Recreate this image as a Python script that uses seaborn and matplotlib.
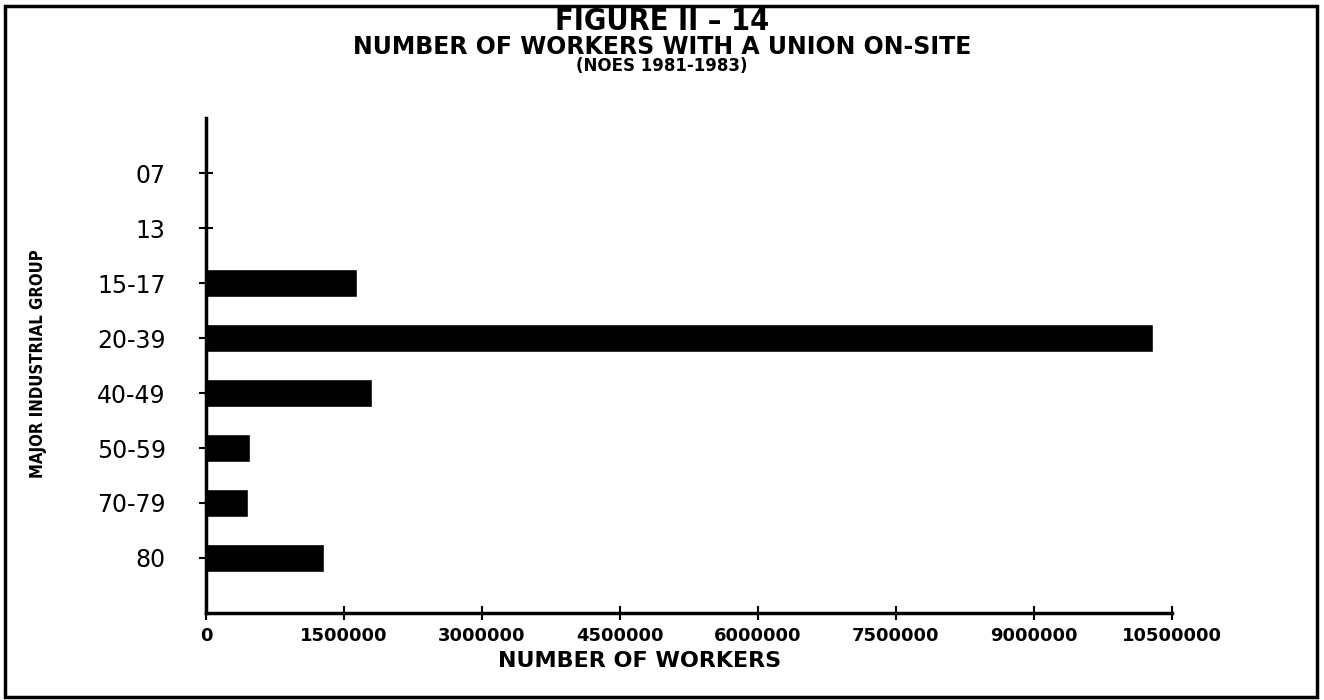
import matplotlib
matplotlib.use("Agg")
import matplotlib.pyplot as plt
import seaborn as sns
import pandas as pd
from matplotlib.patches import Rectangle

# datos
grupos = ["07", "13", "15-17", "20-39", "40-49", "50-59", "70-79", "80"]
trabajadores = [0, 0, 1640000, 10300000, 1810000, 480000, 460000, 1280000]
ticks_x = [0, 1500000, 3000000, 4500000, 6000000, 7500000, 9000000, 10500000]

df = pd.DataFrame({"Grupo": grupos, "Trabajadores": trabajadores})

sns.set_theme(style="white")
plt.rcParams["font.family"] = ["DejaVu Sans"]
plt.rcParams["text.color"] = "black"
plt.rcParams["xtick.color"] = "black"
plt.rcParams["ytick.color"] = "black"

fig = plt.figure(figsize=(13.24, 7), dpi=100)
ax = fig.add_axes([0.1556, 0.1243, 0.7294, 0.7071])

sns.barplot(data=df, x="Trabajadores", y="Grupo", orient="h",
            color="black", width=0.52, ax=ax, saturation=1)

ax.set_xlim(0, 10500000)
ax.set_ylim(8, -1)
ax.set_xticks(ticks_x)
ax.set_xticklabels([str(t) for t in ticks_x], fontsize=13, fontweight="bold")
ax.set_yticks(range(len(grupos)))
ax.set_yticklabels(grupos, fontsize=17)
ax.tick_params(axis="both", direction="inout", length=10, width=1.5,
               color="black", left=True, bottom=True)
ax.tick_params(axis="x", pad=5)
ax.tick_params(axis="y", pad=24)

for s in ["top", "right"]:
    ax.spines[s].set_visible(False)
for s in ["left", "bottom"]:
    ax.spines[s].set_color("black")
    ax.spines[s].set_linewidth(2.5)

ax.set_xlabel("")
ax.set_ylabel("")

fig.text(0.5, 0.970, "FIGURE II – 14", ha="center", va="center",
         fontsize=22, fontweight="bold", fontstretch="condensed")
fig.text(0.5, 0.933, "NUMBER OF WORKERS WITH A UNION ON-SITE", ha="center",
         va="center", fontsize=17, fontweight="heavy")
fig.text(0.5, 0.906, "(NOES 1981-1983)", ha="center", va="center",
         fontsize=12, fontweight="heavy")
fig.text(0.483, 0.056, "NUMBER OF WORKERS", ha="center", va="center",
         fontsize=16, fontweight="heavy")
fig.text(0.029, 0.48, "MAJOR INDUSTRIAL GROUP", ha="center", va="center",
         rotation=90, fontsize=12, fontweight="bold", fontstretch="condensed")

# marco
fig.patches.append(Rectangle((0.004, 0.004), 0.991, 0.988, transform=fig.transFigure,
                             fill=False, edgecolor="black", linewidth=2.5))

plt.savefig("out.png", dpi=100)
